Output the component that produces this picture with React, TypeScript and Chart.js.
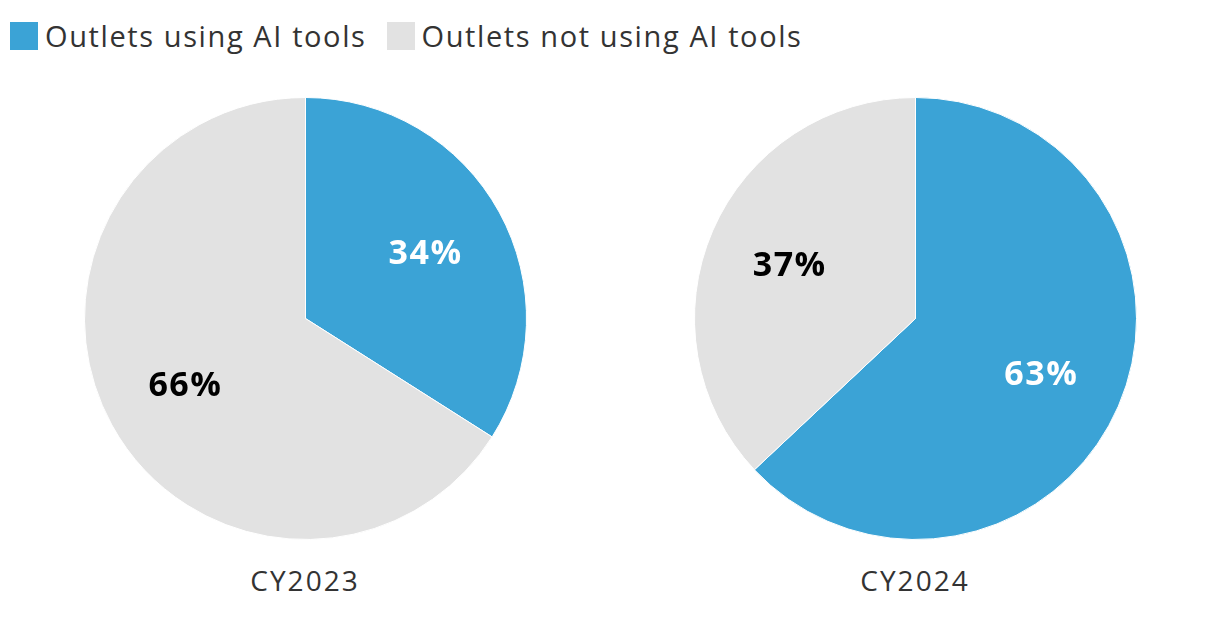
import React, { useEffect, useRef } from "react";
import { Chart, registerables } from "chart.js";

Chart.register(...registerables);

const seriesNames = ["Outlets using AI tools", "Outlets not using AI tools"];
const colors = ["#3ba3d6", "#e2e2e2"];
const labelColors = ["#ffffff", "#000000"];
const years = ["CY2023", "CY2024"];
const values2023 = [34, 66];
const values2024 = [63, 37];
const FONT = "'Open Sans', 'Noto Sans', sans-serif";

const pctPlugin = {
  id: "pctLabels",
  afterDatasetsDraw(chart: any) {
    const ctx = chart.ctx;
    const meta = chart.getDatasetMeta(0);
    const data = chart.data.datasets[0].data as number[];
    ctx.save();
    ctx.font = `bold 34px ${FONT}`;
    (ctx as any).letterSpacing = "1.5px";
    ctx.textAlign = "center";
    ctx.textBaseline = "middle";
    meta.data.forEach((arc: any, i: number) => {
      const p = arc.getProps(["x", "y", "startAngle", "endAngle", "outerRadius"], true);
      const mid = (p.startAngle + p.endAngle) / 2;
      const d = p.outerRadius * 0.62;
      ctx.fillStyle = labelColors[i];
      ctx.fillText(`${data[i]}%`, p.x + d * Math.cos(mid), p.y + d * Math.sin(mid) + 2);
    });
    ctx.restore();
  },
};

function PieChart({ values, left }: { values: number[]; left: number }) {
  const ref = useRef<HTMLCanvasElement | null>(null);
  useEffect(() => {
    if (!ref.current) return;
    const chart = new Chart(ref.current, {
      type: "pie",
      data: {
        labels: seriesNames,
        datasets: [
          {
            data: values,
            backgroundColor: colors,
            borderColor: "#ffffff",
            borderWidth: 1,
          },
        ],
      },
      options: {
        responsive: false,
        animation: false,
        plugins: { legend: { display: false }, tooltip: { enabled: false } },
        layout: { padding: 0 },
      },
      plugins: [pctPlugin],
    });
    return () => chart.destroy();
  }, [values]);
  return (
    <canvas
      ref={ref}
      width={443}
      height={443}
      style={{ position: "absolute", left, top: 97, width: 443, height: 443 }}
    />
  );
}

export default function App() {
  return (
    <div
      style={{
        position: "absolute",
        left: 0,
        top: 0,
        width: 1220,
        height: 628,
        background: "#ffffff",
        fontFamily: FONT,
        color: "#333333",
      }}
    >
      <div style={{ position: "absolute", left: 10, top: 20, display: "flex", alignItems: "center", fontSize: 29, whiteSpace: "nowrap", letterSpacing: "1.6px" }}>
        {seriesNames.map((n, i) => (
          <div key={n} style={{ display: "flex", alignItems: "center", marginRight: 20 }}>
            <div style={{ width: 28, height: 28, background: colors[i], marginRight: 7 }} />
            <span style={{ lineHeight: "32px" }}>{n}</span>
          </div>
        ))}
      </div>
      <PieChart values={values2023} left={84} />
      <PieChart values={values2024} left={694} />
      {years.map((y, i) => (
        <div
          key={y}
          style={{
            position: "absolute",
            left: i === 0 ? 205 : 815,
            width: 200,
            top: 562,
            textAlign: "center",
            fontSize: 28,
            letterSpacing: "2px",
            lineHeight: "36px",
          }}
        >
          {y}
        </div>
      ))}
    </div>
  );
}
